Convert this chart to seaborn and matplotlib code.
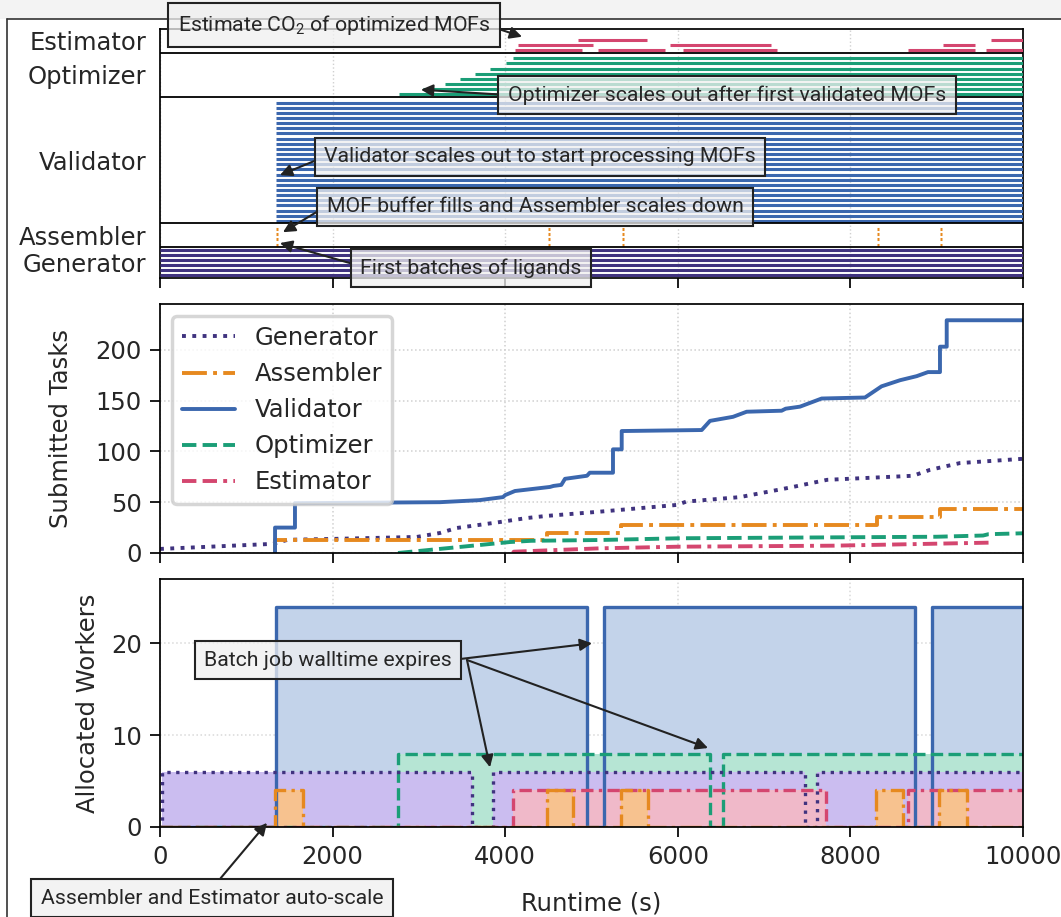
import numpy as np
import pandas as pd
import matplotlib
matplotlib.use('Agg')
import matplotlib.pyplot as plt
from matplotlib.patches import Rectangle
from matplotlib.lines import Line2D
import seaborn as sns

# ── Data ─────────────────────────────────────────────────────────────────────
tasks = ['Generator', 'Assembler', 'Validator', 'Optimizer', 'Estimator']
n_workers = [6, 4, 24, 8, 4]

line_col = {'Generator': '#40337f', 'Assembler': '#e6891f', 'Validator': '#3b67ae',
            'Optimizer': '#1b9e77', 'Estimator': '#d4466f'}
fill_col = {'Generator': '#cbbdf0', 'Assembler': '#f7c28f', 'Validator': '#c3d3ea',
            'Optimizer': '#b6e5d4', 'Estimator': '#f0b9c9'}
line_sty = {'Generator': ':', 'Assembler': '-.', 'Validator': '-',
            'Optimizer': '--', 'Estimator': (0, (3.7, 1.6, 3.7, 1.6, 1, 1.6))}

# Gantt: worker row, task start, task end (s)
gen_row = [0, 1, 2, 3, 4, 5]
gen_start = [0, 0, 0, 0, 0, 0]
gen_end = [10000, 10000, 10000, 10000, 10000, 10000]

val_row = list(range(24))
val_start = [1344] * 24
val_end = [10000] * 24

opt_row = [0, 1, 2, 3, 4, 5, 6, 7]
opt_start = [2770, 3050, 3300, 3476, 3650, 3824, 4009, 4090]
opt_end = [10000] * 8

est_row = [0, 0, 0, 0, 0, 1, 1, 1, 2, 2]
est_start = [4114, 5075, 6060, 8667, 9571, 4148, 5910, 9073, 4844, 9629]
est_end = [4890, 5852, 7150, 9444, 10000, 5017, 7080, 9444, 5643, 10000]

asm_batch_start = [1344, 4496, 5353, 8308, 9038]
asm_task_len = 25

# Submitted tasks (cumulative)
sub_gen_t = [0, 1310, 1480, 1970, 2975, 3244, 3437, 3900, 4250, 4480, 5100, 5990,
             6100, 6720, 7030, 7300, 7730, 8725, 8922, 9270, 10000]
sub_gen_n = [4, 9, 13, 13.8, 15.8, 19.7, 24.6, 30, 34.4, 36.5, 40.7, 47.3,
             50.6, 55, 60, 64.4, 72, 76, 81.8, 88.5, 92.7]
sub_asm_t = [1333, 1333, 4480, 4480, 5338, 5338, 8304, 8304, 9038, 9038, 10000]
sub_asm_n = [0, 13, 13, 20, 20, 27.6, 27.6, 35.8, 35.8, 43, 43]
sub_val_t = [1333, 1333, 1564, 1564, 3244, 3700, 3975, 4000, 4113, 4519, 4560, 4650,
             4693, 4948, 4980, 5249, 5249, 5350, 5350, 6277, 6373, 6640, 6798, 7203,
             7250, 7416, 7667, 8169, 8361, 8575, 8768, 8899, 9038, 9038, 9116, 9116, 10000]
sub_val_n = [0, 25, 25, 49, 50, 52, 55, 57, 61, 65, 66, 67,
             73, 76, 79, 79, 102, 102, 120, 121, 130, 134, 139, 140,
             142, 144, 152, 153, 164, 170, 174, 178, 178, 203, 203, 229, 229]
sub_opt_t = [2758, 3360, 4056, 4300, 5100, 6025, 9000, 9537, 9600, 10000]
sub_opt_n = [0, 5, 10.8, 12, 12.8, 14.5, 16, 17.2, 18.5, 19.4]
sub_est_t = [4090, 4100, 5100, 6000, 7800, 9620]
sub_est_n = [0, 1.3, 4.6, 6.2, 7.2, 10.2]

# Allocated workers (step, post)
alloc_val_t = [0, 1344, 4948, 5145, 8749, 8945, 10000]
alloc_val_n = [0, 24, 0, 24, 0, 24, 24]
alloc_gen_t = [0, 20, 3612, 3860, 7474, 7613, 10000]
alloc_gen_n = [0, 6, 0, 6, 0, 6, 6]
alloc_opt_t = [0, 2758, 6373, 6524, 10000]
alloc_opt_n = [0, 8, 0, 8, 8]
alloc_est_t = [0, 4090, 7714, 8667, 10000]
alloc_est_n = [0, 4, 0, 4, 4]
alloc_asm_t = [0, 1333, 1657, 4481, 4786, 5338, 5655, 8297, 8610, 9027, 9351, 10000]
alloc_asm_n = [0, 4, 0, 4, 0, 4, 0, 4, 0, 4, 0, 0]

xticks = [0, 2000, 4000, 6000, 8000, 10000]

# ── Style ────────────────────────────────────────────────────────────────────
sns.set_theme(style='ticks')
plt.rcParams['font.family'] = ['DejaVu Sans']
plt.rcParams['mathtext.fontset'] = 'custom'
plt.rcParams['mathtext.rm'] = 'Roboto'
plt.rcParams['mathtext.it'] = 'Roboto:italic'

W, H = 1061, 917
FS = 17.5
fig = plt.figure(figsize=(W / 100, H / 100), dpi=100)
fig.patch.set_facecolor('white')

# screenshot-like frame
fig.add_artist(Rectangle((0, 1 - 19 / H), 1, 19 / H, transform=fig.transFigure,
                         fc='#f3f3f3', ec='none', zorder=-2))
fig.add_artist(Line2D([7 / W, 1], [1 - 19 / H] * 2, transform=fig.transFigure,
                      color='#333333', lw=1.2, zorder=-1))
fig.add_artist(Line2D([7 / W] * 2, [0, 1 - 19 / H], transform=fig.transFigure,
                      color='#333333', lw=1.2, zorder=-1))


def px_axes(left, top, right, bottom):
    return fig.add_axes([left / W, 1 - bottom / H, (right - left) / W, (bottom - top) / H])


def style_axes(ax):
    for s in ax.spines.values():
        s.set_visible(True)
        s.set_color('black')
        s.set_linewidth(1.25)
    ax.tick_params(axis='both', direction='out', length=7, width=1.25, color='black',
                   labelsize=FS, pad=6)
    ax.set_xlim(0, 10000)
    ax.set_xticks(xticks)


# ── (A) Gantt of task execution ──────────────────────────────────────────────
ax0 = px_axes(160, 29, 1023, 278)
style_axes(ax0)
band_extra = [0.0, 0.6, 0.6, 0.6, 0.6]
band_lo = {}
y = 0
for name, n, ex in zip(tasks, n_workers, band_extra):
    band_lo[name] = y
    y += n + ex
ytop = y

asm_row, asm_start, asm_end = [], [], []
for t0 in asm_batch_start:
    for r in range(4):
        asm_row.append(r)
        asm_start.append(t0)
        asm_end.append(t0 + asm_task_len)

gantt = {'Generator': (gen_row, gen_start, gen_end),
         'Assembler': (asm_row, asm_start, asm_end),
         'Validator': (val_row, val_start, val_end),
         'Optimizer': (opt_row, opt_start, opt_end),
         'Estimator': (est_row, est_start, est_end)}
for name, (rows, s, e) in gantt.items():
    yy = [band_lo[name] + 0.5 + r for r in rows]
    lc = ax0.hlines(yy, s, e, colors=line_col[name], lw=2.2, zorder=3)
    lc.set_capstyle('butt')
for name in tasks[1:]:
    ax0.axhline(band_lo[name], color='black', lw=1.3, zorder=4)

centers = [band_lo[nm] + (n + ex) / 2 for nm, n, ex in zip(tasks, n_workers, band_extra)]
ax0.set_ylim(0, ytop)
ax0.set_yticks(centers)
ax0.set_yticklabels(tasks)
ax0.tick_params(axis='y', length=0, pad=10)
ax0.tick_params(axis='x', labelbottom=False)
ax0.grid(axis='x', ls=':', color='#d0d0d0', lw=1)

# ── (B) Submitted tasks ──────────────────────────────────────────────────────
ax1 = px_axes(160, 304, 1023, 553)
style_axes(ax1)
sub = {'Generator': (sub_gen_t, sub_gen_n), 'Assembler': (sub_asm_t, sub_asm_n),
       'Validator': (sub_val_t, sub_val_n), 'Optimizer': (sub_opt_t, sub_opt_n),
       'Estimator': (sub_est_t, sub_est_n)}
for name in tasks:
    t, n = sub[name]
    sns.lineplot(x=t, y=n, ax=ax1, color=line_col[name], lw=2.8, ls=line_sty[name],
                 label=name, estimator=None, sort=False)
ax1.set_ylim(0, 245)
ax1.set_yticks([0, 50, 100, 150, 200])
ax1.tick_params(axis='x', labelbottom=False)
ax1.grid(True, ls=':', color='#d0d0d0', lw=1.1)
ax1.set_ylabel('Submitted Tasks', fontsize=FS, labelpad=16)
ax1.set_xlabel('')
leg = ax1.legend(loc='upper left', fontsize=FS, handlelength=2.2, labelspacing=0.5,
                 borderaxespad=0.5, framealpha=0.8, fancybox=True)
leg.get_frame().set_linewidth(2.5)
leg.get_frame().set_edgecolor('#cccccc')

# ── (C) Allocated workers ────────────────────────────────────────────────────
ax2 = px_axes(160, 579, 1023, 827)
style_axes(ax2)
alloc = {'Validator': (alloc_val_t, alloc_val_n), 'Optimizer': (alloc_opt_t, alloc_opt_n),
         'Generator': (alloc_gen_t, alloc_gen_n), 'Estimator': (alloc_est_t, alloc_est_n),
         'Assembler': (alloc_asm_t, alloc_asm_n)}
for i, (name, (t, n)) in enumerate(alloc.items()):
    ax2.fill_between(t, 0, n, step='post', color=fill_col[name], lw=0, zorder=1 + i * 0.05)
for name, (t, n) in alloc.items():
    sns.lineplot(x=t, y=n, ax=ax2, color=line_col[name], lw=2.4, ls=line_sty[name],
                 drawstyle='steps-post', estimator=None, sort=False, legend=False)
ax2.set_ylim(0, 27)
ax2.set_yticks([0, 10, 20])
ax2.grid(True, ls=':', color='#d9d9d9', lw=1.1)
ax2.set_ylabel('Allocated Workers', fontsize=FS, labelpad=8)
ax2.set_xlabel('Runtime (s)', fontsize=FS, labelpad=16)

# ── Annotations ──────────────────────────────────────────────────────────────
box = dict(boxstyle='square,pad=0.45', fc=(0.94, 0.94, 0.94, 0.75), ec='#222222', lw=1.5)


def arrow(rel):
    return dict(arrowstyle='-|>', color='#222222', lw=1.5, mutation_scale=18,
                shrinkA=0, shrinkB=0, relpos=rel)


def fig_pt(px, py):
    return (px / W, 1 - py / H)


ann_kw = dict(textcoords='figure fraction', ha='center', va='center', fontsize=15.3,
              fontfamily='Roboto', annotation_clip=False, zorder=20)

ax0.annotate(r'Estimate CO$_2$ of optimized MOFs', xy=(4195, band_lo['Estimator'] + 3.1),
             xytext=fig_pt(334, 25), bbox=box, arrowprops=arrow((1, 0.45)), **ann_kw)
ax0.annotate('Optimizer scales out after first validated MOFs',
             xy=(3024, band_lo['Optimizer'] + 1.4), xytext=fig_pt(727, 95),
             bbox=box, arrowprops=arrow((0, 0.5)), **ann_kw)
ax0.annotate('Validator scales out to start processing MOFs',
             xy=(1390, band_lo['Validator'] + 9.4), xytext=fig_pt(540, 157),
             bbox=box, arrowprops=arrow((0, 0.5)), **ann_kw)
ax0.annotate('MOF buffer fills and Assembler scales down',
             xy=(1425, band_lo['Assembler'] + 2.9), xytext=fig_pt(535, 207),
             bbox=box, arrowprops=arrow((0, 0.55)), **ann_kw)
ax0.annotate('First batches of ligands',
             xy=(1390, band_lo['Assembler'] + 0.8), xytext=fig_pt(471, 268),
             bbox=box, arrowprops=arrow((0, 0.6)), **ann_kw)

ax2.annotate('Batch job walltime expires', xy=(5006, 20.0), xytext=fig_pt(328, 660),
             bbox=box, arrowprops=arrow((1, 0.5)), **ann_kw)
for tgt in [(3824, 6.5), (6350, 8.6)]:
    ax2.annotate('', xy=tgt, xytext=fig_pt(467, 660), textcoords='figure fraction',
                 arrowprops=arrow((0.5, 0.5)), annotation_clip=False, zorder=20)
ax2.annotate('Assembler and Estimator auto-scale', xy=(1240, 0.45),
             xytext=fig_pt(212, 898), bbox=box, arrowprops=arrow((0.5, 1)), **ann_kw)

plt.savefig('out.png', dpi=100)
